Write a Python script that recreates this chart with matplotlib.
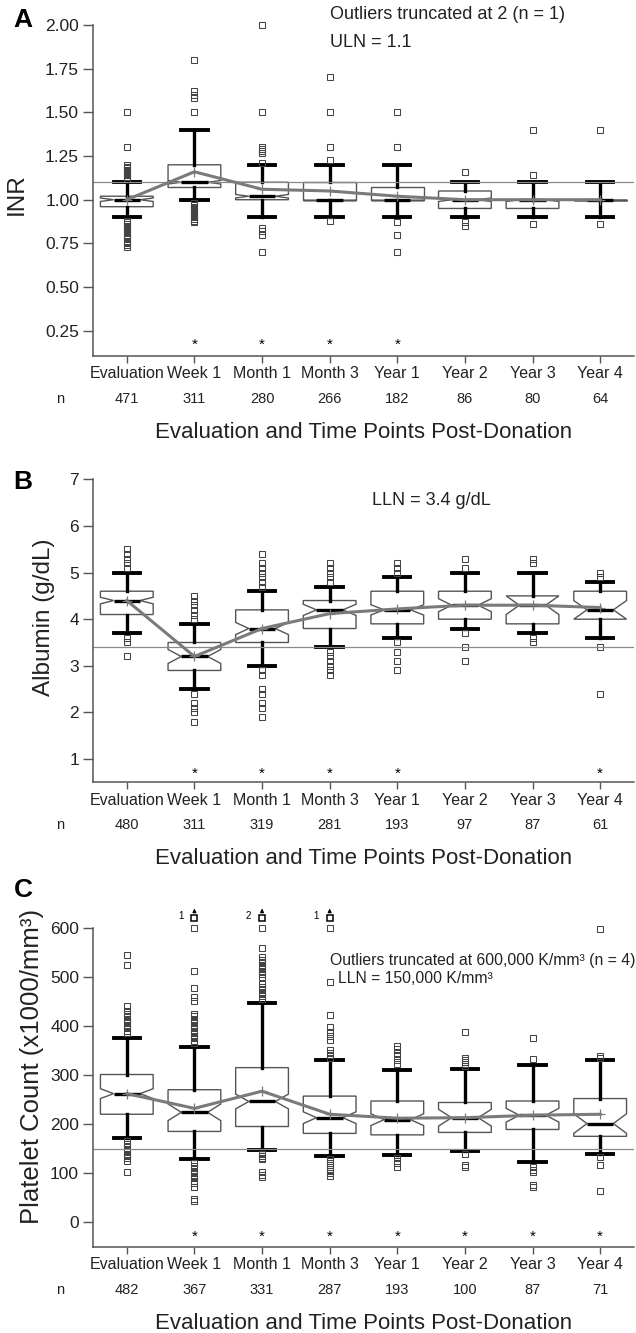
import numpy as np
import matplotlib
matplotlib.use('Agg')
import matplotlib.pyplot as plt
from matplotlib.transforms import blended_transform_factory

plt.rcParams['font.family'] = ['Liberation Sans', 'DejaVu Sans']

cats = ['Evaluation', 'Week 1', 'Month 1', 'Month 3', 'Year 1', 'Year 2', 'Year 3', 'Year 4']

# panel A - INR
n_A = [471, 311, 280, 266, 182, 86, 80, 64]
q1_A = [0.96, 1.07, 1.00, 1.00, 1.00, 0.95, 0.95, 1.00]
med_A = [1.00, 1.10, 1.02, 1.00, 1.00, 1.00, 1.00, 1.00]
q3_A = [1.02, 1.20, 1.10, 1.10, 1.07, 1.05, 1.00, 1.00]
wlo_A = [0.90, 1.00, 0.90, 0.90, 0.90, 0.90, 0.90, 0.90]
whi_A = [1.10, 1.40, 1.20, 1.20, 1.20, 1.10, 1.10, 1.10]
cilo_A = [0.99, 1.09, 1.01, 1.00, 1.00, 0.99, 0.99, 1.00]
cihi_A = [1.01, 1.11, 1.03, 1.00, 1.00, 1.01, 1.00, 1.00]
mean_A = [1.00, 1.16, 1.06, 1.05, 1.02, 1.00, 1.00, 1.00]
out_A = [
    [1.12, 1.13, 1.14, 1.15, 1.16, 1.17, 1.18, 1.19, 1.20, 1.30, 1.50,
     0.88, 0.87, 0.86, 0.85, 0.84, 0.83, 0.82, 0.81, 0.80, 0.79, 0.78, 0.76, 0.75, 0.74, 0.73],
    [1.50, 1.58, 1.60, 1.62, 1.80,
     0.98, 0.97, 0.96, 0.95, 0.94, 0.93, 0.92, 0.91, 0.90, 0.89, 0.88, 0.87],
    [1.21, 1.27, 1.28, 1.29, 1.30, 1.50, 2.00, 0.84, 0.82, 0.80, 0.70],
    [1.23, 1.30, 1.50, 1.70, 0.88],
    [1.30, 1.50, 0.87, 0.80, 0.70],
    [1.16, 0.87, 0.85],
    [1.14, 1.40, 0.86],
    [1.40, 0.86],
]
star_A = [1, 2, 3, 4]

# panel B - albumin
n_B = [480, 311, 319, 281, 193, 97, 87, 61]
q1_B = [4.1, 2.9, 3.5, 3.8, 3.9, 4.0, 3.9, 4.0]
med_B = [4.4, 3.2, 3.8, 4.2, 4.2, 4.3, 4.3, 4.2]
q3_B = [4.6, 3.5, 4.2, 4.4, 4.6, 4.6, 4.5, 4.6]
wlo_B = [3.7, 2.5, 3.0, 3.4, 3.6, 3.8, 3.7, 3.6]
whi_B = [5.0, 3.9, 4.6, 4.7, 4.9, 5.0, 5.0, 4.8]
cilo_B = [4.33, 3.05, 3.67, 4.08, 4.09, 4.16, 4.10, 4.00]
cihi_B = [4.47, 3.35, 3.93, 4.32, 4.31, 4.44, 4.50, 4.40]
mean_B = [4.40, 3.20, 3.80, 4.12, 4.22, 4.30, 4.30, 4.25]
out_B = [
    [5.1, 5.2, 5.3, 5.4, 5.5, 3.6, 3.5, 3.2],
    [4.0, 4.1, 4.2, 4.3, 4.4, 4.5, 2.4, 2.2, 2.1, 2.0, 1.8],
    [4.7, 4.8, 4.9, 5.0, 5.1, 5.2, 5.4, 2.9, 2.8, 2.5, 2.4, 2.2, 2.1, 1.9],
    [4.8, 4.9, 5.0, 5.1, 5.2, 3.3, 3.2, 3.1, 3.0, 2.9, 2.8],
    [5.0, 5.1, 5.2, 3.5, 3.3, 3.1, 2.9],
    [5.1, 5.3, 3.7, 3.4, 3.1],
    [5.2, 5.3, 3.6, 3.5],
    [4.9, 5.0, 3.4, 2.4],
]
star_B = [1, 2, 3, 4, 7]

# panel C - platelets
n_C = [482, 367, 331, 287, 193, 100, 87, 71]
q1_C = [220, 185, 195, 181, 178, 183, 189, 175]
med_C = [262, 224, 246, 213, 209, 213, 218, 201]
q3_C = [301, 270, 315, 257, 247, 244, 247, 252]
wlo_C = [172, 128, 148, 135, 136, 145, 122, 138]
whi_C = [375, 357, 447, 330, 310, 313, 321, 330]
cilo_C = [252, 207, 231, 201, 197, 196, 204, 181]
cihi_C = [272, 241, 261, 225, 221, 230, 232, 221]
mean_C = [262, 232, 267, 220, 212, 213, 218, 220]
out_C = [
    [385, 390, 395, 400, 405, 410, 415, 420, 425, 430, 440, 525, 545,
     165, 160, 155, 150, 145, 140, 135, 130, 125, 102],
    [365, 370, 375, 380, 385, 390, 395, 400, 405, 410, 415, 420, 425, 450, 458, 478, 512, 600,
     120, 115, 110, 105, 100, 95, 90, 85, 80, 72, 47, 43],
    [455, 460, 465, 470, 475, 480, 485, 500, 505, 510, 515, 520, 525, 530, 535, 540, 558, 600,
     140, 135, 130, 128, 102, 97, 92],
    [335, 340, 345, 350, 372, 380, 388, 397, 422, 490, 600,
     128, 124, 120, 116, 112, 108, 104, 100, 95],
    [322, 330, 338, 345, 352, 360, 130, 125, 120, 113],
    [318, 322, 326, 330, 335, 387, 140, 117, 112],
    [332, 375, 112, 107, 102, 76, 72],
    [335, 338, 597, 132, 117, 64],
]
trunc_idx = [1, 2, 3]
trunc_n = ['1', '2', '1']
star_C = [1, 2, 3, 4, 5, 6, 7]

pos = np.arange(len(cats))


def draw_panel(ax, q1, med, q3, wlo, whi, cilo, cihi, means, outl, ref, n, stars, star_y):
    stats = []
    for i in range(len(cats)):
        stats.append(dict(med=med[i], q1=q1[i], q3=q3[i], whislo=wlo[i], whishi=whi[i],
                          cilo=cilo[i], cihi=cihi[i], fliers=np.array(outl[i])))
    bp = ax.bxp(stats, positions=pos, widths=0.78, shownotches=True, patch_artist=True,
                manage_ticks=False,
                boxprops=dict(facecolor='white', edgecolor='#555555', linewidth=1.0),
                medianprops=dict(color='black', linewidth=2.4),
                whiskerprops=dict(color='black', linewidth=2.4),
                capprops=dict(color='black', linewidth=2.8),
                flierprops=dict(marker='s', markerfacecolor='none', markeredgecolor='#444444',
                                markersize=4.3, markeredgewidth=0.75))
    for f in bp['fliers']:
        f.set_clip_on(False)
    ax.axhline(ref, color='#8a8a8a', lw=0.9, zorder=2.05)
    ax.plot(pos, means, color='#7a7a7a', lw=2.2, marker='+', ms=7, mew=0.9, zorder=5)
    for i in stars:
        ax.text(i, star_y, '*', ha='center', va='center', fontsize=11)

    ax.set_xlim(-0.5, 7.5)
    ax.set_xticks(pos)
    ax.set_xticklabels(cats)
    for s in ['top', 'right']:
        ax.spines[s].set_visible(False)
    for s in ['left', 'bottom']:
        ax.spines[s].set_color('#555555')
        ax.spines[s].set_linewidth(1.1)
    ax.tick_params(axis='y', direction='out', length=7, width=1, color='#555555',
                   labelsize=12.5, labelcolor='#222222', pad=3)
    ax.tick_params(axis='x', direction='out', length=5, width=1, color='#555555',
                   labelsize=11.5, labelcolor='#222222', pad=2.5)

    tr = blended_transform_factory(ax.transData, ax.transAxes)
    ax.annotate('n', xy=(-0.98, 0), xycoords=tr, xytext=(0, -31), textcoords='offset points',
                ha='center', va='center', fontsize=10.5, color='#222222', annotation_clip=False)
    for i in range(len(cats)):
        ax.annotate(str(n[i]), xy=(i, 0), xycoords=tr, xytext=(0, -31), textcoords='offset points',
                    ha='center', va='center', fontsize=10.5, color='#222222', annotation_clip=False)
    ax.annotate('Evaluation and Time Points Post-Donation', xy=(0.5, 0), xycoords='axes fraction',
                xytext=(0, -55), textcoords='offset points', ha='center', va='center',
                fontsize=16, color='#222222', annotation_clip=False)


fig = plt.figure(figsize=(6.36, 13.33), dpi=100)
axA = fig.add_axes([0.1462, 0.7329, 0.8506, 0.2483])
axB = fig.add_axes([0.1462, 0.4131, 0.8506, 0.2273])
axC = fig.add_axes([0.1462, 0.0647, 0.8506, 0.2393])

# A
draw_panel(axA, q1_A, med_A, q3_A, wlo_A, whi_A, cilo_A, cihi_A, mean_A, out_A, 1.1, n_A, star_A, 0.17)
axA.set_ylim(0.105, 2.0)
axA.set_yticks([0.25, 0.5, 0.75, 1.0, 1.25, 1.5, 1.75, 2.0])
axA.set_yticklabels(['0.25', '0.50', '0.75', '1.00', '1.25', '1.50', '1.75', '2.00'])
axA.set_ylabel('INR', fontsize=17.5, color='#222222')
axA.yaxis.set_label_coords(-0.12, 0.49)
axA.text(3.0, 2.06, 'Outliers truncated at 2 (n = 1)', fontsize=13, va='center', ha='left',
         color='#222222', clip_on=False)
axA.text(3.0, 1.90, 'ULN = 1.1', fontsize=13, va='center', ha='left', color='#222222')

# B
draw_panel(axB, q1_B, med_B, q3_B, wlo_B, whi_B, cilo_B, cihi_B, mean_B, out_B, 3.4, n_B, star_B, 0.69)
axB.set_ylim(0.5, 7.0)
axB.set_yticks([1, 2, 3, 4, 5, 6, 7])
axB.set_ylabel('Albumin (g/dL)', fontsize=17.5, color='#222222')
axB.yaxis.set_label_coords(-0.071, 0.546)
axB.text(3.62, 6.55, 'LLN = 3.4 g/dL', fontsize=13, va='center', ha='left', color='#222222')

# C
draw_panel(axC, q1_C, med_C, q3_C, wlo_C, whi_C, cilo_C, cihi_C, mean_C, out_C, 150, n_C, star_C, -30)
axC.set_ylim(-50, 600)
axC.set_yticks([0, 100, 200, 300, 400, 500, 600])
axC.set_ylabel('Platelet Count (x1000/mm³)', fontsize=18.5, color='#222222')
axC.yaxis.set_label_coords(-0.09, 0.565)
axC.text(3.01, 534, 'Outliers truncated at 600,000 K/mm³ (n = 4)', fontsize=11.3,
         va='center', ha='left', color='#222222')
axC.text(3.12, 497, 'LLN = 150,000 K/mm³', fontsize=11.3, va='center', ha='left', color='#222222')
for i, lab in zip(trunc_idx, trunc_n):
    axC.plot(i, 620, marker='s', markerfacecolor='none', markeredgecolor='black',
             markersize=4.5, markeredgewidth=1.1, clip_on=False, zorder=6)
    axC.annotate('', xy=(i, 645), xytext=(i, 626),
                 arrowprops=dict(arrowstyle='-|>', color='black', lw=0.9, mutation_scale=5),
                 annotation_clip=False)
    axC.text(i - 0.2, 623, lab, fontsize=7, ha='center', va='center', clip_on=False)

fig.text(0.036, 1 - 20 / 1333, 'A', fontsize=19, fontweight='bold', ha='center', va='center')
fig.text(0.036, 1 - 482 / 1333, 'B', fontsize=19, fontweight='bold', ha='center', va='center')
fig.text(0.036, 1 - 890 / 1333, 'C', fontsize=19, fontweight='bold', ha='center', va='center')

fig.savefig('out.png', dpi=100)
